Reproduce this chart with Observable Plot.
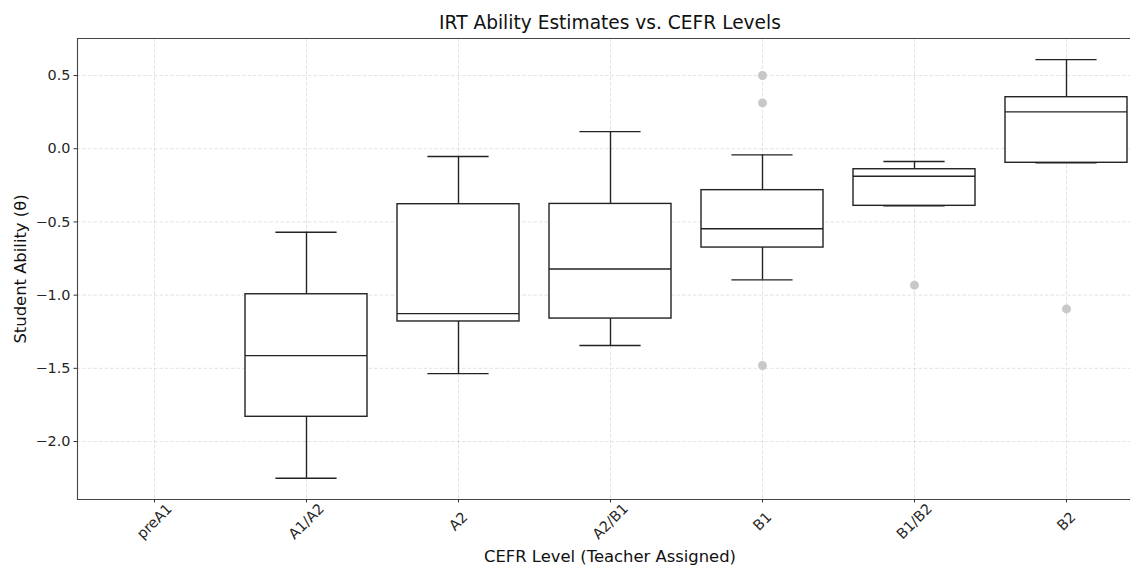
<!DOCTYPE html>
<html><head><meta charset="utf-8">
<script src="https://cdn.jsdelivr.net/npm/d3@7"></script>
<script src="https://cdn.jsdelivr.net/npm/@observablehq/plot@0.6"></script>
<style>
  html,body{margin:0;padding:0;background:#fff;overflow:hidden}
  #chart svg{font-family:"DejaVu Sans",sans-serif}
</style>
</head><body><div id="chart"></div>
<script>
// ---- data ----
const levels = ["preA1","A1/A2","A2","A2/B1","B1","B1/B2","B2"];
const boxLevels   = ["A1/A2","A2","A2/B1","B1","B1/B2","B2"];
const whiskerLow  = [-2.251,-1.536,-1.344,-0.896,-0.390,-0.096];
const q1          = [-1.831,-1.180,-1.160,-0.675,-0.390,-0.096];
const median      = [-1.413,-1.126,-0.821,-0.547,-0.188, 0.252];
const q3          = [-0.994,-0.379,-0.377,-0.283,-0.140, 0.352];
const whiskerHigh = [-0.570,-0.053, 0.117,-0.042,-0.087, 0.609];
const outlierLevels = ["B1","B1","B1","B1/B2","B2"];
const outlierValues = [0.500, 0.313,-1.481,-0.932,-1.094];
const yTicks = [-2.0,-1.5,-1.0,-0.5,0.0,0.5];
const yDomain = [-2.396, 0.753];
const title = "IRT Ability Estimates vs. CEFR Levels";
const xLabel = "CEFR Level (Teacher Assigned)";
const yLabel = "Student Ability (θ)";

const boxes = boxLevels.map((level,i)=>({level, lo:whiskerLow[i], q1:q1[i], med:median[i], q3:q3[i], hi:whiskerHigh[i]}));
const outliers = outlierLevels.map((level,i)=>({level, v:outlierValues[i]}));

const ink = "#222";
const gridStyle = {stroke:"#b0b0b0", strokeOpacity:0.45, strokeDasharray:"3.5,2", strokeWidth:0.8};

const chart = Plot.plot({
  width:1130, height:566,
  marginLeft:77, marginTop:38, marginBottom:67, marginRight:-12,
  style:{fontFamily:"DejaVu Sans, sans-serif", fontSize:"14.4px", color:"#262626", background:"#fff"},
  x:{type:"band", domain:levels, paddingInner:0.2, paddingOuter:0.1, align:0.5},
  y:{domain:yDomain},
  marks:[
    Plot.gridY(yTicks, gridStyle),
    Plot.ruleX(levels, {x:d=>d, ...gridStyle}),
    Plot.ruleX(boxes, {x:"level", y1:"lo", y2:"q1", stroke:ink, strokeWidth:1.4}),
    Plot.ruleX(boxes, {x:"level", y1:"q3", y2:"hi", stroke:ink, strokeWidth:1.4}),
    Plot.tickY(boxes, {x:"level", y:"lo", stroke:ink, strokeWidth:1.4, insetLeft:30.4, insetRight:30.4}),
    Plot.tickY(boxes, {x:"level", y:"hi", stroke:ink, strokeWidth:1.4, insetLeft:30.4, insetRight:30.4}),
    Plot.barY(boxes, {x:"level", y1:"q1", y2:"q3", fill:"white", stroke:ink, strokeWidth:1.4}),
    Plot.tickY(boxes, {x:"level", y:"med", stroke:ink, strokeWidth:1.4}),
    Plot.dot(outliers, {x:"level", y:"v", r:4.5, fill:"#c8c8c8", stroke:null}),
    Plot.frame({anchor:"left", stroke:"#444", strokeWidth:1.1}),
    Plot.frame({anchor:"top", stroke:"#444", strokeWidth:1.1}),
    Plot.frame({anchor:"bottom", stroke:"#444", strokeWidth:1.1}),
    Plot.axisY(yTicks, {tickFormat:d3.format(".1f"), tickSize:3.5, tickPadding:3.5, label:null, stroke:"#333", fontSize:14.4}),
    Plot.axisX({tickSize:3.5, tickFormat:()=>"", label:null, stroke:"#333"}),
    Plot.text(levels, {x:d=>d, frameAnchor:"bottom", dy:22, rotate:-45, textAnchor:"middle", lineAnchor:"middle", fontSize:14.4, ariaLabel:"xticklabel"}),
    Plot.text([title], {frameAnchor:"top", dy:-15, textAnchor:"middle", lineAnchor:"middle", fontSize:18.6, fill:"#111"}),
    Plot.text([xLabel], {frameAnchor:"bottom", dy:57, textAnchor:"middle", lineAnchor:"middle", fontSize:16.4, fill:"#111"}),
    Plot.text([yLabel], {frameAnchor:"left", dx:-57, rotate:-90, textAnchor:"middle", lineAnchor:"middle", fontSize:16.4, fill:"#111", ariaLabel:"ylabel"})
  ]
});
document.getElementById("chart").appendChild(chart);

// italic theta like matplotlib mathtext
chart.querySelectorAll('g[aria-label="ylabel"] text').forEach(t=>{
  t.innerHTML = 'Student Ability (<tspan font-style="italic">θ</tspan>)';
});
// matplotlib-style rotated tick labels: centred on the tick, bbox top just below the axis
const sr = chart.getBoundingClientRect();
chart.querySelectorAll('g[aria-label="xticklabel"] text').forEach(t=>{
  const r = t.getBoundingClientRect();
  const delta = 509 - (r.top - sr.top);
  const tr = t.getAttribute("transform") || "";
  t.setAttribute("transform", `translate(0,${delta}) ` + tr);
});
</script>
</body></html>
